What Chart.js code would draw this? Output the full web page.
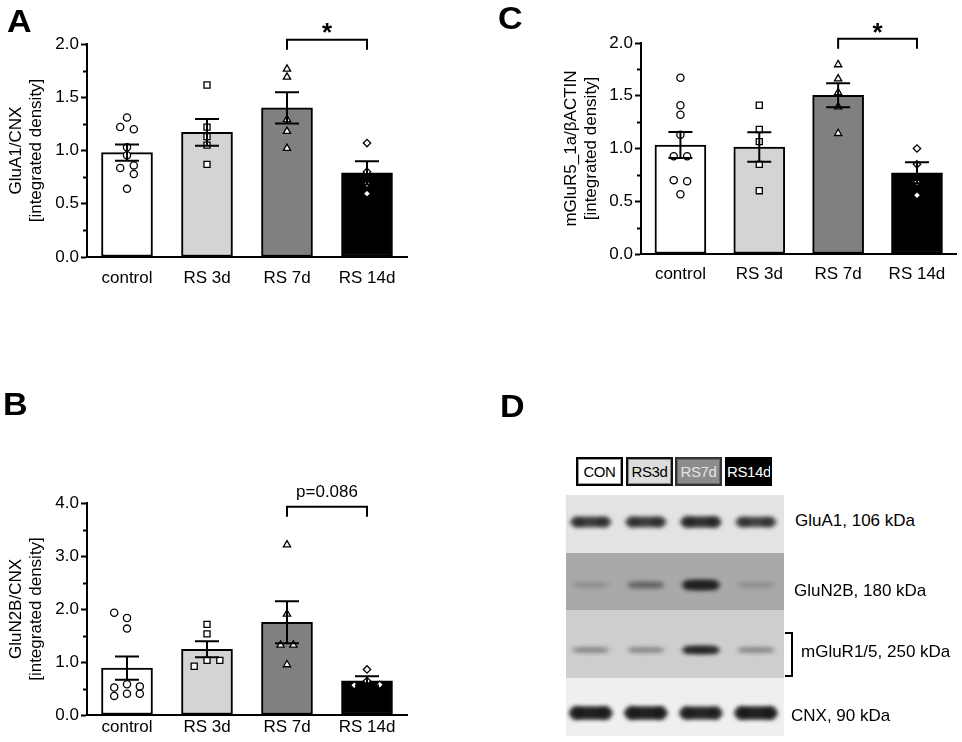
<!DOCTYPE html>
<html><head><meta charset="utf-8">
<script src="https://cdn.jsdelivr.net/npm/chart.js@4.4.1/dist/chart.umd.min.js"></script>
<style>
html,body{margin:0;padding:0;background:#fff;}
body{width:962px;height:742px;position:relative;overflow:hidden;font-family:"Liberation Sans",Arial,sans-serif;color:#000;}
canvas{position:absolute;}
.letter{position:absolute;font-weight:bold;font-size:31px;line-height:31px;transform:scaleX(1.1);transform-origin:0 0;}
.lane{position:absolute;box-sizing:border-box;height:29px;width:47px;font-size:15px;letter-spacing:-0.4px;line-height:25px;text-align:center;border:2px solid #000;overflow:hidden;}
.prot{position:absolute;font-size:17px;line-height:20px;white-space:nowrap;}
</style></head>
<body>
<canvas id="cA" width="420" height="300" style="left:0px;top:0px"></canvas>
<canvas id="cB" width="420" height="362" style="left:0px;top:380px"></canvas>
<canvas id="cC" width="482" height="300" style="left:480px;top:0px"></canvas>
<canvas id="cD" width="230" height="252" style="left:560px;top:490px"></canvas>
<div class="letter" style="left:7px;top:6px">A</div>
<div class="letter" style="left:3px;top:389px">B</div>
<div class="letter" style="left:498px;top:3px">C</div>
<div class="letter" style="left:500px;top:391px">D</div>
<div id="dLabels"></div>
<script>
// ---------- data ----------
const groups = ['control', 'RS 3d', 'RS 7d', 'RS 14d'];

// Panel A: GluA1/CNX
const meanA = [0.98, 1.17, 1.40, 0.79];
const semA = [0.077, 0.125, 0.147, 0.11];
const ptsA_control = [1.31, 1.22, 1.20, 1.03, 0.955, 0.86, 0.836, 0.78, 0.64];
const ptsA_rs3 = [1.615, 1.22, 1.13, 1.05, 0.87];
const ptsA_rs7 = [1.765, 1.69, 1.29, 1.18, 1.02];
const ptsA_rs14 = [1.07, 0.80, 0.685, 0.595];
const spreadA_control = [0, -1, 1, 0, 0, 1, -1, 1, 0];
const ticksA = [0.0, 0.5, 1.0, 1.5, 2.0];

// Panel B: GluN2B/CNX
const meanB = [0.885, 1.24, 1.75, 0.645];
const semB = [0.22, 0.15, 0.397, 0.088];
const ptsB_control = [1.93, 1.83, 1.63, 0.58, 0.54, 0.52, 0.36, 0.40, 0.40];
const ptsB_rs3 = [1.71, 1.53, 0.92, 1.03, 1.03];
const ptsB_rs7 = [3.21, 1.905, 1.32, 1.32, 0.95];
const ptsB_rs14 = [0.86, 0.56, 0.64, 0.57];
const spreadB_control = [-1, 0, 0, 0, 1, -1, -1, 0, 1];
const spreadB_rs3 = [0, 0, -1, 0, 1];
const spreadB_rs7 = [0, 0, -0.5, 0.5, 0];
const spreadB_rs14 = [0, -1, 0, 1];
const ticksB = [0.0, 1.0, 2.0, 3.0, 4.0];

// Panel C: mGluR5_1a/βACTIN
const meanC = [1.033, 1.014, 1.505, 0.77];
const semC = [0.124, 0.14, 0.113, 0.10];
const ptsC_control = [1.67, 1.41, 1.32, 1.13, 0.926, 0.926, 0.70, 0.69, 0.567];
const ptsC_rs3 = [1.41, 1.18, 1.065, 0.85, 0.60];
const ptsC_rs7 = [1.795, 1.66, 1.53, 1.395, 1.143];
const ptsC_rs14 = [1.0, 0.85, 0.68, 0.557];
const spreadC_control = [0, 0, 0, 0, -1, 1, -1, 1, 0];
const ticksC = [0.0, 0.5, 1.0, 1.5, 2.0];

// Panel D: western blot (relative band intensity)
const blotLanes = ['CON', 'RS3d', 'RS7d', 'RS14d'];
const blotProteins = ['GluA1, 106 kDa', 'GluN2B, 180 kDa', 'mGluR1/5, 250 kDa', 'CNX, 90 kDa'];
const bandGluA1 = [0.72, 0.72, 0.80, 0.68];
const bandGluN2B = [0.12, 0.35, 0.92, 0.12];
const bandMGluR = [0.30, 0.30, 0.90, 0.30];
const bandCNX = [0.95, 0.95, 0.90, 0.95];

// ---------- styles ----------
const FONT = '"Liberation Sans", Arial, sans-serif';
Chart.defaults.font.family = FONT;
Chart.defaults.color = '#000';
const barFill = ['#ffffff', '#d4d4d4', '#808080', '#000000'];
const markers = [
  {style: 'circle', r: 3.6},
  {style: 'rect', r: 4.3},
  {style: 'triangle', r: 4.2},
  {style: 'rectRot', r: 3.7}
];

function overlay(cfg) {
  return {
    id: 'overlay',
    afterDatasetsDraw(chart) {
      const {ctx, scales: {x, y}} = chart;
      ctx.save();
      ctx.strokeStyle = '#000';
      ctx.lineWidth = 2;
      cfg.means.forEach((m, i) => {
        const px = x.getPixelForValue(i);
        const hi = y.getPixelForValue(m + cfg.sems[i]);
        const lo = y.getPixelForValue(m - cfg.sems[i]);
        ctx.beginPath();
        ctx.moveTo(px, hi); ctx.lineTo(px, lo);
        ctx.moveTo(px - 12, hi); ctx.lineTo(px + 12, hi);
        ctx.moveTo(px - 12, lo); ctx.lineTo(px + 12, lo);
        ctx.stroke();
      });
      const left = chart.chartArea.left;
      for (let v = cfg.minor; v < cfg.max; v += cfg.minor * 2) {
        const py = Math.round(y.getPixelForValue(v)) + 0.5;
        ctx.beginPath(); ctx.moveTo(left - 4, py); ctx.lineTo(left, py); ctx.stroke();
      }
      const b = cfg.bracket;
      const x1 = x.getPixelForValue(b.from), x2 = x.getPixelForValue(b.to);
      const yt = y.getPixelForValue(b.top), yl = y.getPixelForValue(b.leg);
      ctx.beginPath();
      ctx.moveTo(x1, yl); ctx.lineTo(x1, yt); ctx.lineTo(x2, yt); ctx.lineTo(x2, yl);
      ctx.stroke();
      ctx.fillStyle = '#000';
      ctx.textAlign = 'center';
      ctx.textBaseline = 'alphabetic';
      ctx.font = b.bold ? 'bold 26px ' + FONT : '17px ' + FONT;
      ctx.fillText(b.label, (x1 + x2) / 2, y.getPixelForValue(b.labelY));
      ctx.restore();
    }
  };
}

function makeChart(id, o) {
  const pts = o.points.map((arr, i) => ({
    type: 'scatter', xAxisID: 'xs', yAxisID: 'y', order: 1,
    data: arr.map((v, k) => ({x: i + (o.spread[i] ? o.spread[i][k] * o.spreadUnit[i] : 0), y: v})),
    pointStyle: markers[i].style, pointRadius: markers[i].r, pointHoverRadius: markers[i].r,
    pointBackgroundColor: '#fff', pointBorderColor: '#000', pointBorderWidth: 1.3
  }));
  return new Chart(document.getElementById(id), {
    type: 'bar',
    data: {
      labels: groups,
      datasets: [{
        type: 'bar', data: o.means, xAxisID: 'x', yAxisID: 'y', order: 2, grouped: false,
        backgroundColor: barFill, borderColor: '#000', borderWidth: 2, borderSkipped: false,
        barThickness: 51
      }, ...pts]
    },
    options: {
      responsive: false, animation: false, events: [],
      layout: {padding: o.pad},
      plugins: {legend: {display: false}, tooltip: {enabled: false}},
      scales: {
        x: {
          type: 'category', offset: true,
          grid: {display: false, drawTicks: false},
          border: {color: '#000', width: 2},
          ticks: {font: {size: 17}, color: '#000', padding: o.xPad},
          afterFit(s) { s.height = o.xH; }
        },
        xs: {type: 'linear', display: false, offset: false, min: -0.5, max: 3.5, grid: {offset: false}},
        y: {
          type: 'linear', min: 0, max: o.max,
          afterBuildTicks(s) { s.ticks = o.ticks.map(v => ({value: v})); },
          ticks: {font: {size: 17}, color: '#000', padding: 2, callback: v => Number(v).toFixed(1)},
          grid: {drawOnChartArea: false, drawTicks: true, tickLength: 6, tickColor: '#000', tickWidth: 2},
          border: {color: '#000', width: 2},
          title: {display: true, text: o.title, font: {size: 17}, color: '#000', padding: {top: o.titlePad, bottom: 0}},
          afterFit(s) { s.width = o.yW; }
        }
      }
    },
    plugins: [overlay({means: o.means, sems: o.sems, minor: o.minor, max: o.max, bracket: o.bracket})]
  });
}

makeChart('cA', {
  means: meanA, sems: semA, max: 2, ticks: ticksA, minor: 0.25,
  points: [ptsA_control, ptsA_rs3, ptsA_rs7, ptsA_rs14],
  spread: [spreadA_control], spreadUnit: [0.085],
  title: ['GluA1/CNX', '[integrated density]'], titlePad: 6,
  pad: {left: 0, top: 44, right: 13, bottom: 3}, xH: 40, yW: 87, xPad: 11,
  bracket: {from: 2, to: 3, top: 2.04, leg: 1.945, label: '*', labelY: 2.03, bold: true}
});
makeChart('cB', {
  means: meanB, sems: semB, max: 4, ticks: ticksB, minor: 0.5,
  points: [ptsB_control, ptsB_rs3, ptsB_rs7, ptsB_rs14],
  spread: [spreadB_control, spreadB_rs3, spreadB_rs7, spreadB_rs14], spreadUnit: [0.16, 0.16, 0.16, 0.16],
  title: ['GluN2B/CNX', '[integrated density]'], titlePad: 6,
  pad: {left: 0, top: 123, right: 13, bottom: 0}, xH: 27, yW: 87, xPad: 2,
  bracket: {from: 2, to: 3, top: 3.93, leg: 3.74, label: 'p=0.086', labelY: 4.12, bold: false}
});
makeChart('cC', {
  means: meanC, sems: semC, max: 2, ticks: ticksC, minor: 0.25,
  points: [ptsC_control, ptsC_rs3, ptsC_rs7, ptsC_rs14],
  spread: [spreadC_control], spreadUnit: [0.085],
  title: ['mGluR5_1a/\u03B2ACTIN', '[integrated density]'], titlePad: 81,
  pad: {left: 0, top: 43, right: 3, bottom: 6}, xH: 40, yW: 161, xPad: 10,
  bracket: {from: 2, to: 3, top: 2.04, leg: 1.945, label: '*', labelY: 2.02, bold: true}
});

// ---------- Panel D: blot drawn on library scales ----------
const blotRows = [bandGluA1, bandGluN2B, bandMGluR, bandCNX];
const rowEdges = [0, 58, 115, 183, 241];
const rowBand = [27, 90, 155, 218];
const rowBg = ['#e3e3e3', '#a9a9a9', '#cecece', '#efefef'];
const rowBandH = [10, 9, 7, 11];
const rowBandW = [42, 40, 40, 44];
const blotPlugin = {
  id: 'blot',
  beforeDatasetsDraw(chart) {
    const {ctx, scales: {x, y}} = chart;
    const L = chart.chartArea.left, R = chart.chartArea.right;
    ctx.save();
    blotRows.forEach((row, r) => {
      const t = y.getPixelForValue(rowEdges[r]), b = y.getPixelForValue(rowEdges[r + 1]);
      ctx.fillStyle = rowBg[r];
      ctx.fillRect(L, t, R - L, b - t);
    });
    ctx.beginPath();
    ctx.rect(L, chart.chartArea.top, R - L, chart.chartArea.bottom - chart.chartArea.top);
    ctx.clip();
    blotRows.forEach((row, r) => {
      row.forEach((a, i) => {
        const cx = x.getPixelForValue(i + 0.5);
        const cy = y.getPixelForValue(rowBand[r]);
        const h = rowBandH[r] * (0.55 + 0.55 * a);
        const w = rowBandW[r];
        ctx.filter = 'blur(2.2px)';
        ctx.fillStyle = 'rgba(20,20,20,' + (a * 0.8).toFixed(3) + ')';
        ctx.beginPath();
        ctx.ellipse(cx, cy, w / 2, h / 2, 0, 0, Math.PI * 2);
        ctx.fill();
        ctx.fillRect(cx - w / 2 + 4, cy - h / 2, w - 8, h);
        if (r === 0 || r === 3) {
          ctx.fillStyle = 'rgba(20,20,20,' + (a * 0.5).toFixed(3) + ')';
          ctx.beginPath();
          ctx.ellipse(cx - w / 2 + 8, cy, 7, h / 2 + 1, 0, 0, Math.PI * 2);
          ctx.ellipse(cx + w / 2 - 8, cy, 7, h / 2 + 1, 0, 0, Math.PI * 2);
          ctx.fill();
        }
        ctx.filter = 'none';
      });
    });
    ctx.restore();
  }
};
new Chart(document.getElementById('cD'), {
  type: 'scatter',
  data: {datasets: [{data: []}]},
  options: {
    responsive: false, animation: false, events: [],
    layout: {padding: {left: 6, top: 5, right: 6, bottom: 6}},
    plugins: {legend: {display: false}, tooltip: {enabled: false}},
    scales: {
      x: {type: 'linear', display: false, min: 0.05, max: 4.01},
      y: {type: 'linear', display: false, min: 0, max: 241, reverse: true}
    }
  },
  plugins: [blotPlugin]
});

const laneStyle = [
  {left: 576, bg: '#fff', color: '#000', border: '#000', inset: '#999'},
  {left: 626, bg: '#dcdcdc', color: '#000', border: '#111', inset: '#888'},
  {left: 675, bg: '#8c8c8c', color: '#e4e4e4', border: '#333', inset: '#666'},
  {left: 725, bg: '#000', color: '#fff', border: '#000', inset: '#000'}
];
const protPos = [{l: 795, t: 511}, {l: 794, t: 581}, {l: 801, t: 642}, {l: 791, t: 706}];
const holder = document.getElementById('dLabels');
blotLanes.forEach((name, i) => {
  const d = document.createElement('div');
  d.className = 'lane';
  const s = laneStyle[i];
  d.style.cssText = `left:${s.left}px;top:457px;background:${s.bg};color:${s.color};border-color:${s.border};box-shadow:inset 0 0 0 1px ${s.inset};`;
  d.textContent = name;
  holder.appendChild(d);
});
blotProteins.forEach((name, i) => {
  const d = document.createElement('div');
  d.className = 'prot';
  d.style.left = protPos[i].l + 'px';
  d.style.top = protPos[i].t + 'px';
  d.textContent = name;
  holder.appendChild(d);
});
const br = document.createElement('div');
br.style.cssText = 'position:absolute;left:785px;top:632px;width:6px;height:41px;border:2px solid #000;border-left:none;';
holder.appendChild(br);
</script>
</body></html>
